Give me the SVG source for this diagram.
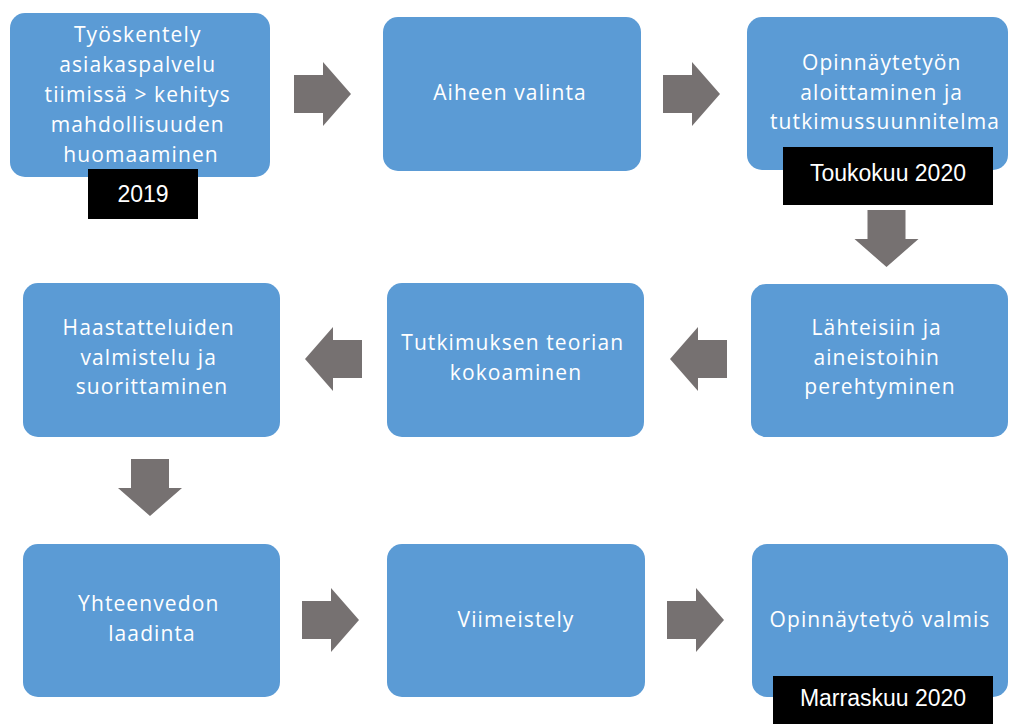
<svg xmlns="http://www.w3.org/2000/svg" width="1019" height="724" viewBox="0 0 1019 724">
  <style>
    .box { fill: #5B9BD5; }
    .txt { font-family: "Open Sans", "Noto Sans", "DejaVu Sans", sans-serif; font-size: 21px; letter-spacing: 1.1px; fill: #ffffff; text-anchor: middle; }
    .tag { fill: #000000; }
    .tagtxt { font-family: "Liberation Sans", Arial, sans-serif; font-size: 23px; fill: #ffffff; text-anchor: middle; }
    .arrow { fill: #767171; }
  </style>
  <defs>
    <!-- block arrow pointing right, tail at x=0, centred on y=0 -->
    <path id="arrowR" d="M0,-19 H29 V-32 L57,0 L29,32 V19 H0 Z"/>
  </defs>
  <rect width="1019" height="724" fill="#ffffff"/>

  <g id="connectors" class="arrow">
    <use href="#arrowR" transform="translate(294,94)"/>
    <use href="#arrowR" transform="translate(663,94)"/>
    <use href="#arrowR" transform="translate(886.5,210) rotate(90)"/>
    <use href="#arrowR" transform="translate(727,359) rotate(180)"/>
    <use href="#arrowR" transform="translate(362,359) rotate(180)"/>
    <use href="#arrowR" transform="translate(150,459) rotate(90)"/>
    <use href="#arrowR" transform="translate(302,620)"/>
    <use href="#arrowR" transform="translate(667,620)"/>
  </g>

  <g id="node-tyoskentely">
    <rect class="box" x="10" y="13" width="260" height="164" rx="15"/>
    <text class="txt">
      <tspan x="141" y="42">Työskentely</tspan>
      <tspan x="141" y="72">asiakaspalvelu</tspan>
      <tspan x="141" y="102">tiimissä &gt; kehitys</tspan>
      <tspan x="141" y="132">mahdollisuuden</tspan>
      <tspan x="141" y="162">huomaaminen</tspan>
    </text>
  </g>

  <g id="node-aiheen-valinta">
    <rect class="box" x="383" y="17" width="258" height="154" rx="15"/>
    <text class="txt" x="510" y="100">Aiheen valinta</text>
  </g>

  <g id="node-aloittaminen">
    <rect class="box" x="747" y="17" width="261" height="153" rx="15"/>
    <text class="txt">
      <tspan x="885" y="70">Opinnäytetyön</tspan>
      <tspan x="885" y="100">aloittaminen ja</tspan>
      <tspan x="885" y="129">tutkimussuunnitelma</tspan>
    </text>
  </g>

  <g id="node-lahteisiin">
    <rect class="box" x="751" y="284" width="257" height="153" rx="15"/>
    <text class="txt">
      <tspan x="880" y="335">Lähteisiin ja</tspan>
      <tspan x="880" y="365">aineistoihin</tspan>
      <tspan x="880" y="394">perehtyminen</tspan>
    </text>
  </g>

  <g id="node-teoria">
    <rect class="box" x="387" y="283" width="257" height="154" rx="15"/>
    <text class="txt">
      <tspan x="516" y="350">Tutkimuksen teorian</tspan>
      <tspan x="516" y="380">kokoaminen</tspan>
    </text>
  </g>

  <g id="node-haastattelut">
    <rect class="box" x="23" y="283" width="257" height="154" rx="15"/>
    <text class="txt">
      <tspan x="152" y="335">Haastatteluiden</tspan>
      <tspan x="152" y="365">valmistelu ja</tspan>
      <tspan x="152" y="394">suorittaminen</tspan>
    </text>
  </g>

  <g id="node-yhteenveto">
    <rect class="box" x="23" y="544" width="257" height="153" rx="15"/>
    <text class="txt">
      <tspan x="152" y="611">Yhteenvedon</tspan>
      <tspan x="152" y="641">laadinta</tspan>
    </text>
  </g>

  <g id="node-viimeistely">
    <rect class="box" x="387" y="544" width="258" height="153" rx="15"/>
    <text class="txt" x="516" y="627">Viimeistely</text>
  </g>

  <g id="node-valmis">
    <rect class="box" x="752" y="544" width="256" height="153" rx="15"/>
    <text class="txt" x="880" y="627">Opinnäytetyö valmis</text>
  </g>

  <g id="tag-2019">
    <rect class="tag" x="88" y="169" width="110" height="50"/>
    <text class="tagtxt" x="143" y="202">2019</text>
  </g>

  <g id="tag-toukokuu">
    <rect class="tag" x="783" y="147" width="210" height="58"/>
    <text class="tagtxt" x="888" y="181">Toukokuu 2020</text>
  </g>

  <g id="tag-marraskuu">
    <rect class="tag" x="773" y="676" width="220" height="48"/>
    <text class="tagtxt" x="883" y="706">Marraskuu 2020</text>
  </g>
</svg>
